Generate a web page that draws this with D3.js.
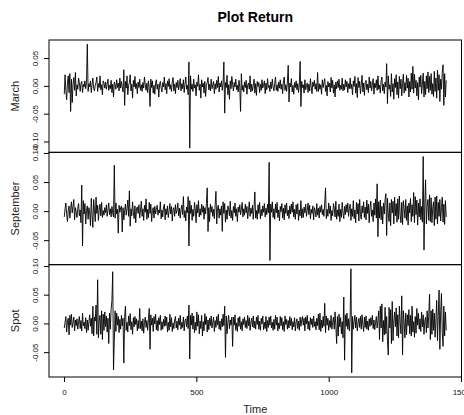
<!DOCTYPE html>
<html>
<head>
<meta charset="utf-8">
<title>Plot Return</title>
<script src="https://d3js.org/d3.v7.min.js"></script>
<style>
    body { margin: 0; background: #fff; }
    svg text { font-family: "Liberation Sans", Arial, sans-serif; }
</style>
</head>
<body>
<div id="chart"></div>
<script>

// daily returns (x 1000), one reading every 3 time steps
var march = [
    -15, 20, -8, -25, 5, 18, -12, 22, -46, 12, -30, 3, 15, -8, 24, -18, 2, -6, 14, 6,
    -10, 4, 8, -12, 3, -2, 9, -5, 6, 75, -10, 4, -2, 9, -12, 3, 14, -5, -9, 1,
    6, 16, -10, 4, -3, 18, -7, 2, -16, 9, 5, -4, 7, -6, 3, 12, -8, 1, -5, 10,
    -12, 3, -20, 7, 2, -6, 11, -3, 5, -9, 14, -4, 8, -2, -11, 29, -35, 8, -4, 18,
    -16, 1, 6, 20, -9, 3, -22, 10, -2, 17, -5, 4, -14, 7, -3, 12, -8, 2, -10, 6,
    -4, 16, 2, -8, 5, -12, 9, -3, -37, 12, -3, 9, -13, 1, -15, 5, 11, -6, 3, -20,
    3, 8, -4, -11, 6, -2, 16, -7, 4, -14, 9, -1, 13, -6, 2, -10, 7, 15, -9, 3,
    -14, 6, -3, 10, -7, 2, 13, -9, 4, -5, 11, -12, 3, 16, -6, 1, -16, 43, -112, 18,
    -6, 3, -10, 12, -4, 2, -18, 7, -1, 20, -8, 3, -22, 11, -2, 5, -13, 8, -19, 1,
    6, 15, -7, 3, -9, 12, -5, 2, 8, -14, 4, -6, 10, -3, 17, -11, 5, -2, 9, -8,
    4, 43, -49, 6, -3, 19, -16, 2, -24, 9, -5, 17, 3, -9, 6, -2, 12, -7, 1, -11,
    10, -2, -46, 22, -8, 1, -11, 7, -3, 10, -15, 2, 5, -6, 18, -11, 3, -9, 1, 12,
    -13, 4, -17, 8, -1, 6, -12, 3, -8, 11, -4, 2, 9, -14, 5, -7, 13, -3, 1, -10,
    7, -5, 12, -2, -9, 4, 16, -8, 2, -10, 7, -4, 11, -6, 3, -14, 9, 16, -8, 2,
    -10, 7, 37, -29, 5, -2, 13, -11, 1, -15, 6, -3, 9, -7, 4, -12, 2, 44, -37, 8,
    -3, 2, -13, 11, -7, 1, 5, -12, 3, -9, 13, -2, -14, 7, -1, 10, -6, 4, -10, 24,
    -10, 4, -6, 2, -15, 11, -3, 6, 13, -10, 1, -18, 8, -2, 5, -11, 15, -4, 10, -13,
    2, -20, 7, -5, 9, -3, 12, -8, 1, -6, 14, -9, 3, -7, 11, -2, 8, -12, 4, -5,
    14, -5, 3, -16, 9, -1, 17, -13, 4, -21, 15, -3, 8, -14, 2, 19, -11, 5, -17, 6,
    10, -7, 3, -12, 16, -4, 8, -9, 2, 13, -15, 5, -3, 11, -8, 18, -6, 1, -13, 9,
    16, -9, 3, -14, 7, -2, 40, -32, 18, -6, 2, -19, 22, -11, 4, -24, 13, -3, 20, -16,
    7, -22, 17, -5, 12, -18, 4, 21, -13, 6, -9, 19, -4, 14, -20, 8, -11, 23, -6, 35,
    -13, 21, -4, 10, -18, 6, -25, 16, -2, 19, -14, 3, 23, -20, 8, -16, 18, -5, 25, -12,
    17, -8, 22, -15, 4, -19, 26, -10, 14, -22, 28, -8, 20, -28, 12, -6, 24, 38, -35, 22,
    -20, 10
];

var september = [
    -10, 4, 14, -6, -18, 2, 9, -12, 3, 16, -3, 8, 20, -15, 6, -2, -11, 5, 13, -8,
    2, -20, 45, -60, 18, -5, 13, -22, 1, 9, -14, 6, -4, -25, 22, -8, -28, 20, 3, -18,
    24, -4, 10, -16, 2, 12, -8, 15, -11, 1, -7, 6, -3, 11, -9, 2, 14, -6, 4, -10,
    8, -3, -10, 79, -12, 14, -5, 3, -38, 10, -2, 6, 9, -36, 6, -15, 1, 12, -7, 4,
    19, -9, 35, -26, 4, -8, 16, -2, -13, 9, -20, 5, 7, -4, 11, -12, 2, 17, -9, 4,
    -16, 10, -2, 21, -14, 3, -11, 15, -4, 12, -18, 1, 6, -12, 8, -5, 3, 10, -7, 2,
    -3, 16, -13, 2, -10, 7, 12, -15, 4, -6, 9, -11, 1, 13, -5, 8, -17, 3, 6, -9,
    11, -4, 2, 14, -8, 5, -12, 3, 10, -6, 25, -11, 1, -17, 7, -3, 25, -60, 18, -4,
    10, -16, 3, -9, 15, 2, -20, 11, -3, 18, -10, 4, -7, 12, -2, 9, -14, 6, -5, 13,
    40, -35, 6, -18, 12, -2, 8, -9, 3, -13, 11, 34, -22, 5, 10, -12, 4, -7, 9, -35,
    16, -4, 13, -19, 2, -14, 9, 3, -8, 17, -12, 1, -16, 8, -3, 14, -9, 4, -18, 7,
    -2, 11, -6, 3, 15, -10, 4, -7, 12, -3, 8, -13, 2, 16, -9, 5, -4, 10, -14, 6,
    33, -12, 1, -14, 11, -4, 15, -13, 3, -8, 9, -2, 13, -10, 5, -6, 12, -3, 84, -85,
    12, -2, 16, -11, 4, -14, 12, -3, 15, -11, 2, -17, 8, -1, 13, -12, 5, -15, 11, -4,
    14, -8, 2, -13, 9, -5, 12, -2, 16, -10, 3, -14, 11, -5, 13, -16, 2, -8, 18, -12,
    4, -11, 7, -3, 12, -9, 2, 14, -6, 10, -13, 3, -4, 9, -15, 6, 1, -10, 13, -7,
    5, -12, 8, -2, 11, -6, 3, -9, 14, 40, -13, 3, -9, 14, -4, 9, -16, 1, -8, 13,
    5, -10, 17, -14, 2, -9, 12, -18, 3, -11, 15, -3, -13, 8, -6, 11, -2, 14, -9, 4,
    12, -16, 4, -9, 18, -13, 2, -20, 15, -5, 13, -17, 20, -6, -14, 9, -3, 16, -11, 7,
    -15, 19, -4, 12, -20, 6, 17, -9, 2, -18, 14, -7, 21, -12, 47, -44, 16, -12, 19, -15,
    8, -22, 14, -5, 20, 30, -42, 22, -5, -18, 14, -25, 20, -3, 17, -22, 24, -8, 13, -19,
    21, -14, 26, -6, -20, 15, -23, 18, 5, -12, 20, -16, 9, -24, 14, -3, 22, -18, 11, -9,
    32, -20, 25, -6, 19, -24, 14, -10, 21, -15, 8, -19, 94, -67, 12, 54, -22, 8, 20, -16,
    28, -18, 23, -20, 5, 16, -25, 24, -14, 26, -22, 15, -9, 20, -17, 6, 24, -19, 12, -23,
    18, -10
];

var spot = [
    -8, 2, 12, -15, 4, 9, -20, 14, -3, 16, -7, 1, 11, -13, 6, -4, 8, -10, 3, 12,
    -9, 5, -13, 18, -4, 2, -9, 10, -16, 6, -12, 3, 15, -5, 9, -18, 30, -22, 11, 4,
    32, -19, 76, -25, 4, 14, -19, 22, -28, 16, -12, 20, -6, 13, -15, 9, -35, 18, -10, 25,
    40, 90, -81, -30, 22, -14, 18, -3, 12, -16, 7, -10, 14, -4, 9, -69, 10, 30, -12, 2,
    -15, 13, -4, 17, -11, 3, -19, 10, -6, 12, -2, 8, -13, 5, -9, 26, -9, 4, -13, 8,
    -17, 2, 11, -7, 5, -12, 8, 26, -45, 15, -3, 9, -14, 12, -1, 16, -11, 5, -13, 10,
    -2, 14, -12, 3, -10, 7, -5, 13, -4, 11, -15, 2, -12, 16, -6, 10, -14, 1, -9, 6,
    12, -8, 4, -11, 9, -3, 14, -10, 2, -7, 11, -13, 5, 8, -6, 13, -9, 32, -62, 14,
    -3, 18, -10, 13, -16, 2, -12, 20, -5, 15, -18, 4, -9, 14, -22, 3, -13, 17, -2, 12,
    -15, 6, -11, 9, -4, 13, -8, 2, 11, -14, 5, -7, 12, -3, 16, -10, 4, -12, 8, -6,
    16, -4, 30, -59, 13, -18, 2, 14, -9, 6, -3, 11, -40, 11, -3, 15, -12, 1, -14, 10,
    -5, 12, -10, 3, -13, 8, -2, 11, -7, 5, -9, 14, -4, 10, -12, 2, 9, -6, 13, -8,
    4, -10, 11, -2, 14, -10, 4, -12, 9, -1, 13, -11, 2, -9, 12, -14, 5, -7, 11, -3,
    13, -8, 2, -12, 7, -10, 14, -3, 11, -13, 1, -9, 12, -4, 10, -11, 3, -14, 13, -2,
    7, -10, 5, -8, 12, -4, 9, -11, 3, -6, 10, -13, 2, 8, -9, 4, -12, 11, -5, 6,
    12, -3, 9, -13, 11, -1, 14, -10, 4, -12, 10, -2, 8, -7, 13, -5, 3, -11, 9, -4,
    16, -11, 18, -14, 6, -8, 12, -5, 35, -16, 13, -3, 9, -12, 5, -7, 14, -10, 2, 11,
    -10, 20, -4, -35, 12, -22, 16, -6, 10, -18, 3, -25, 46, -64, 15, -5, 18, -10, 8, -13,
    12, 95, -86, 12, -10, 3, 14, -8, 11, -13, 1, 9, -7, 12, -10, 15, -2, -14, 11, -7,
    13, -10, 4, -12, 8, -5, 10, -3, 14, -9, 6, -11, 2, 12, -8, 5, 22, -28, 30, -8,
    34, -32, 5, -20, 28, -18, 12, -30, -55, 28, -8, 24, -35, 38, -30, 4, 20, -6, 27, -22,
    15, -25, 30, 2, -18, 48, -55, 22, 2, -25, 18, -20, 15, -4, 24, -18, 14, -22, 30, -15,
    3, -24, 12, -17, 26, -3, 18, -10, 8, -14, 20, -6, 15, -19, 4, 11, -16, 22, -8, 13,
    51, -28, 22, -19, 25, -12, 18, -24, 6, 40, -30, 14, 58, -45, 20, 52, -15, -40, 30, -22,
    20, -12
];

var seriesNames = ["March", "September", "Spot"];
var seriesValues = [march, september, spot];
var timeStart = 1, timeStep = 3;
var xTicks = [0, 500, 1000, 1500];
var yTicks = [
    [-0.10, -0.05, 0.00, 0.05],
    [-0.05, 0.00, 0.05, 0.10],
    [-0.05, 0.00, 0.05, 0.10]
];

var width = 464, height = 415;
var plotLeft = 49, plotRight = 461.5, plotTop = 40, plotBottom = 377;
var panelH = (plotBottom - plotTop) / seriesNames.length;

var svg = d3.select("#chart").append("svg")
    .attr("width", width)
    .attr("height", height);

// time values for each reading
function toPoints(vals) {
    return vals.map(function(v, i) { return { t: timeStart + i * timeStep, v: v / 1000 }; });
}

var tExt = d3.extent(toPoints(march), function(d) { return d.t; });
var tPad = (tExt[1] - tExt[0]) * 0.04;

var x = d3.scaleLinear()
    .domain([tExt[0] - tPad, tExt[1] + tPad])
    .range([plotLeft, plotRight]);

svg.append("text")
    .attr("x", (plotLeft + plotRight) / 2)
    .attr("y", 22)
    .attr("text-anchor", "middle")
    .style("font-size", "14px")
    .style("font-weight", "bold")
    .text("Plot Return");

seriesValues.forEach(function(vals, k) {
    var pts = toPoints(vals);
    var y0 = plotTop + k * panelH, y1 = y0 + panelH;
    var ext = d3.extent(pts, function(d) { return d.v; });
    var pad = (ext[1] - ext[0]) * 0.04;

    var y = d3.scaleLinear()
        .domain([ext[0] - pad, ext[1] + pad])
        .range([y1, y0]);

    var g = svg.append("g").attr("class", "panel");

    g.append("path")
        .datum(pts)
        .attr("fill", "none")
        .attr("stroke", "#000")
        .attr("stroke-width", 0.9)
        .attr("d", d3.line()
            .x(function(d) { return x(d.t); })
            .y(function(d) { return y(d.v); }));

    var yAxis = g.append("g")
        .attr("transform", "translate(" + plotLeft + ",0)")
        .call(d3.axisLeft(y).tickValues(yTicks[k]).tickSize(5)
            .tickFormat(function(d) { return d.toFixed(2); }));
    yAxis.select(".domain").remove();
    yAxis.selectAll(".tick text")
        .attr("transform", "rotate(-90)")
        .attr("x", 0)
        .attr("y", -11)
        .attr("dy", 0)
        .attr("text-anchor", "middle")
        .style("font-size", "8px")
        .attr("fill", "#111");

    g.append("text")
        .attr("transform", "translate(19," + ((y0 + y1) / 2) + ") rotate(-90)")
        .attr("text-anchor", "middle")
        .style("font-size", "11px")
        .attr("fill", "#222")
        .text(seriesNames[k]);

    g.append("rect")
        .attr("x", plotLeft)
        .attr("y", y0)
        .attr("width", plotRight - plotLeft)
        .attr("height", panelH)
        .attr("fill", "none")
        .attr("stroke", "#000")
        .attr("stroke-width", 1);
});

var xAxis = svg.append("g")
    .attr("transform", "translate(0," + plotBottom + ")")
    .call(d3.axisBottom(x).tickValues(xTicks).tickSize(5).tickPadding(7)
        .tickFormat(d3.format("d")));
xAxis.select(".domain").remove();
xAxis.selectAll("text")
    .style("font-size", "8px")
    .attr("fill", "#111");

svg.append("text")
    .attr("x", (plotLeft + plotRight) / 2)
    .attr("y", 413)
    .attr("text-anchor", "middle")
    .style("font-size", "11px")
    .attr("fill", "#222")
    .text("Time");

</script>
</body>
</html>
